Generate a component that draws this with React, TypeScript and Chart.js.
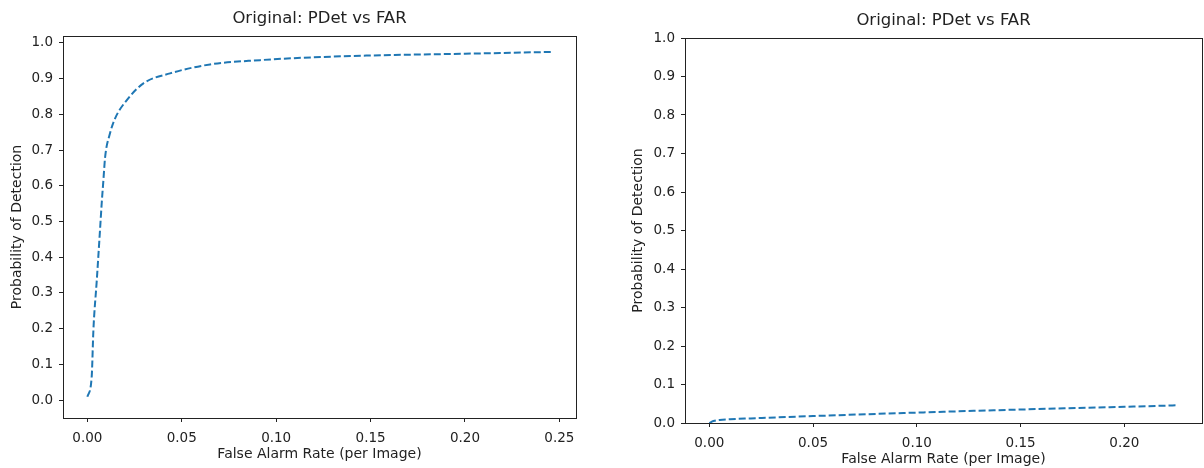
import React, { useEffect, useRef } from "react";
import { Chart, registerables } from "chart.js";

Chart.register(...registerables);

// ---- Data ----
const FAR_LEFT = [0, 0.0023, 0.0032, 0.005, 0.0067, 0.0076, 0.0085, 0.0094, 0.012, 0.0147, 0.0209, 0.0297, 0.0438, 0.065, 0.0915, 0.12, 0.15, 0.2, 0.246];
const PDET_LEFT = [0.009, 0.065, 0.196, 0.336, 0.476, 0.551, 0.616, 0.68, 0.747, 0.789, 0.84, 0.887, 0.915, 0.94, 0.952, 0.96, 0.965, 0.97, 0.975];

const FAR_RIGHT = [0, 0.002, 0.005, 0.01, 0.02, 0.05, 0.1, 0.15, 0.2, 0.226];
const PDET_RIGHT = [0, 0.005, 0.008, 0.01, 0.012, 0.018, 0.027, 0.035, 0.042, 0.046];

const X_TICKS_LEFT = [0, 0.05, 0.1, 0.15, 0.2, 0.25];
const X_TICKS_RIGHT = [0, 0.05, 0.1, 0.15, 0.2];
const Y_TICKS = [0, 0.1, 0.2, 0.3, 0.4, 0.5, 0.6, 0.7, 0.8, 0.9, 1.0];

const TITLE = "Original: PDet vs FAR";
const X_LABEL = "False Alarm Rate (per Image)";
const Y_LABEL = "Probability of Detection";

const FONT = "'DejaVu Sans', sans-serif";
const TEXT = "#222";
const AXIS = "#222";
const LINE = "#1f77b4";

const framePlugin = {
  id: "frame",
  afterDraw(chart: any) {
    const { ctx, chartArea: a } = chart;
    ctx.save();
    ctx.strokeStyle = AXIS;
    ctx.lineWidth = 1;
    ctx.strokeRect(a.left + 0.5, a.top + 0.5, a.right - a.left, a.bottom - a.top);
    ctx.restore();
  },
};

type Layout = {
  width: number;
  height: number;
  left: number;
  top: number;
  right: number;
  bottom: number;
  xMin: number;
  xMax: number;
  yMin: number;
  yMax: number;
  titlePadTop: number;
  yTitlePad: number;
  xTitlePadBottom: number;
};

function makeConfig(far: number[], pd: number[], xTicks: number[], L: Layout): any {
  const titleLH = 16.5 * 1.2;
  return {
    type: "line",
    data: {
      datasets: [
        {
          data: far.map((x, i) => ({ x, y: pd[i] })),
          borderColor: LINE,
          borderWidth: 2,
          borderDash: [7, 3],
          pointRadius: 0,
          fill: false,
          cubicInterpolationMode: "monotone",
        },
      ],
    },
    options: {
      responsive: false,
      animation: false,
      layout: { padding: { left: 0, top: 0, right: L.width - L.right, bottom: 0 } },
      plugins: {
        legend: { display: false },
        tooltip: { enabled: false },
        title: {
          display: true,
          text: TITLE,
          fullSize: false,
          color: TEXT,
          font: { family: FONT, size: 16.5, weight: "normal", lineHeight: 1.2 },
          padding: { top: L.titlePadTop, bottom: L.top - L.titlePadTop - titleLH },
        },
      },
      scales: {
        x: {
          type: "linear",
          min: L.xMin,
          max: L.xMax,
          afterBuildTicks: (s: any) => {
            s.ticks = xTicks.map((v) => ({ value: v }));
          },
          afterFit: (s: any) => {
            s.height = L.height - L.bottom;
          },
          ticks: {
            color: TEXT,
            font: { family: FONT, size: 13.5 },
            padding: 8,
            maxRotation: 0,
            autoSkip: false,
            callback: (v: any) => Number(v).toFixed(2),
          },
          grid: { drawOnChartArea: false, drawTicks: true, tickLength: 4, color: AXIS },
          border: { display: true, color: AXIS },
          title: {
            display: true,
            text: X_LABEL,
            color: TEXT,
            font: { family: FONT, size: 14, lineHeight: 1.2 },
            padding: { top: 0, bottom: L.xTitlePadBottom },
          },
        },
        y: {
          type: "linear",
          min: L.yMin,
          max: L.yMax,
          afterBuildTicks: (s: any) => {
            s.ticks = Y_TICKS.map((v) => ({ value: v }));
          },
          afterFit: (s: any) => {
            s.width = L.left;
          },
          ticks: {
            color: TEXT,
            font: { family: FONT, size: 13.5 },
            padding: 6,
            autoSkip: false,
            callback: (v: any) => Number(v).toFixed(1),
          },
          grid: { drawOnChartArea: false, drawTicks: true, tickLength: 4, color: AXIS },
          border: { display: true, color: AXIS },
          title: {
            display: true,
            text: Y_LABEL,
            color: TEXT,
            font: { family: FONT, size: 14, lineHeight: 1.2 },
            padding: { top: L.yTitlePad, bottom: 0 },
          },
        },
      },
    },
    plugins: [framePlugin],
  };
}

const LEFT_LAYOUT: Layout = {
  width: 600,
  height: 468,
  left: 63,
  top: 36,
  right: 576,
  bottom: 418,
  xMin: -0.0129,
  xMax: 0.2588,
  yMin: -0.0504,
  yMax: 1.0196,
  titlePadTop: 9,
  yTitlePad: 8.6,
  xTitlePadBottom: 5,
};

const RIGHT_LAYOUT: Layout = {
  width: 604,
  height: 468,
  left: 85,
  top: 38,
  right: 602,
  bottom: 423,
  xMin: -0.0117,
  xMax: 0.2374,
  yMin: 0,
  yMax: 1,
  titlePadTop: 11,
  yTitlePad: 29.6,
  xTitlePadBottom: 0,
};

function ChartPanel(props: { far: number[]; pd: number[]; xTicks: number[]; layout: Layout; x: number }) {
  const ref = useRef<HTMLCanvasElement | null>(null);
  useEffect(() => {
    if (!ref.current) return;
    const chart = new Chart(ref.current, makeConfig(props.far, props.pd, props.xTicks, props.layout));
    return () => chart.destroy();
  }, []);
  const L = props.layout;
  return (
    <canvas
      ref={ref}
      width={L.width}
      height={L.height}
      style={{ position: "absolute", left: props.x, top: 0, width: L.width, height: L.height, display: "block" }}
    />
  );
}

export default function App() {
  return (
    <div style={{ position: "absolute", left: 0, top: 0, width: 1204, height: 468, background: "#fff", overflow: "hidden" }}>
      <ChartPanel far={FAR_LEFT} pd={PDET_LEFT} xTicks={X_TICKS_LEFT} layout={LEFT_LAYOUT} x={0} />
      <ChartPanel far={FAR_RIGHT} pd={PDET_RIGHT} xTicks={X_TICKS_RIGHT} layout={RIGHT_LAYOUT} x={600} />
    </div>
  );
}
